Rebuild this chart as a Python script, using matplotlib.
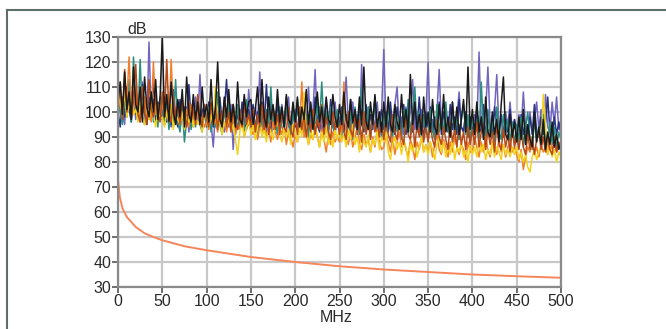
import numpy as np
import matplotlib.pyplot as plt
from matplotlib.lines import Line2D

plt.rcParams['font.family'] = ['Liberation Sans', 'DejaVu Sans']

# frequency axis of the measured traces, every 2.5 MHz (one row = 50 MHz)
freq = np.arange(0, 501, 2.5)

black = [104, 112, 99, 116, 101, 108, 97, 118, 103, 100, 110, 96, 114, 102, 98, 108, 100, 113, 97, 106,
         130, 98, 107, 96, 112, 100, 95, 105, 98, 109, 94, 114, 99, 96, 107, 97, 104, 95, 110, 98,
         103, 96, 113, 95, 101, 120, 97, 94, 106, 98, 109, 96, 103, 94, 112, 97, 95, 107, 98, 104,
         105, 95, 101, 110, 96, 113, 98, 94, 106, 97, 103, 95, 109, 96, 102, 94, 107, 97, 95, 104,
         96, 106, 94, 102, 97, 109, 95, 104, 93, 100, 108, 96, 102, 94, 106, 97, 95, 107, 98, 94,
         103, 95, 108, 97, 94, 105, 96, 101, 93, 106, 95, 118, 96, 93, 104, 95, 107, 94, 100, 92,
         104, 94, 106, 95, 92, 103, 96, 93, 107, 94, 101, 92, 115, 95, 104, 93, 99, 91, 106, 94,
         100, 92, 105, 94, 91, 103, 93, 107, 92, 98, 90, 104, 93, 102, 91, 97, 105, 92, 118, 93,
         101, 91, 104, 92, 98, 89, 106, 92, 90, 100, 91, 97, 88, 103, 114, 91, 89, 99, 90, 96,
         88, 98, 89, 101, 87, 95, 89, 86, 100, 88, 94, 87, 97, 85, 92, 87, 96, 86, 91, 85,
         88]
blue = [97, 106, 100, 95, 110, 101, 98, 107, 97, 104, 96, 112, 100, 95, 128, 98, 105, 96, 103, 97,
        106, 95, 101, 97, 94, 105, 96, 100, 93, 103, 95, 102, 92, 99, 94, 106, 96, 115, 95, 100,
        94, 102, 96, 86, 100, 93, 104, 95, 92, 99, 94, 103, 85, 98, 93, 101, 95, 106, 94, 109,
        96, 93, 102, 95, 116, 94, 101, 92, 98, 104, 93, 100, 91, 97, 103, 93, 99, 106, 92, 97,
        101, 93, 98, 92, 103, 95, 110, 93, 100, 117, 94, 102, 92, 98, 105, 93, 100, 95, 104, 94,
        98, 93, 101, 114, 95, 92, 104, 94, 99, 91, 119, 95, 93, 102, 92, 98, 94, 104, 93, 100,
        125, 94, 92, 100, 95, 103, 110, 93, 98, 91, 102, 94, 100, 113, 93, 97, 92, 101, 94, 99,
        120, 93, 97, 91, 100, 117, 94, 92, 101, 95, 93, 104, 91, 98, 108, 94, 92, 100, 93, 97,
        91, 99, 93, 124, 94, 92, 100, 118, 95, 91, 101, 115, 93, 98, 92, 100, 94, 104, 92, 97,
        90, 99, 93, 108, 94, 91, 100, 92, 97, 104, 93, 101, 91, 107, 94, 92, 104, 95, 106, 93,
        97]
navy = [100, 94, 106, 98, 110, 101, 96, 108, 99, 105, 97, 111, 100, 95, 106, 98, 114, 97, 104, 100,
        97, 106, 96, 103, 95, 109, 98, 94, 105, 97, 102, 95, 111, 97, 103, 96, 106, 95, 100, 103,
        95, 104, 97, 94, 102, 96, 106, 95, 100, 113, 96, 93, 103, 95, 99, 94, 104, 96, 93, 101,
        95, 103, 93, 100, 95, 104, 94, 111, 96, 92, 102, 95, 104, 93, 100, 94, 106, 95, 92, 101,
        94, 102, 95, 92, 104, 96, 93, 101, 94, 106, 95, 92, 102, 94, 99, 93, 105, 95, 91, 100,
        94, 102, 92, 99, 94, 105, 93, 100, 91, 102, 95, 92, 103, 94, 99, 93, 106, 92, 97, 101,
        93, 100, 92, 104, 94, 91, 102, 95, 93, 103, 91, 99, 94, 92, 104, 93, 106, 94, 91, 100,
        94, 102, 92, 98, 93, 104, 91, 100, 94, 92, 103, 93, 98, 91, 105, 94, 92, 100, 90, 98,
        93, 91, 101, 94, 92, 103, 90, 99, 93, 91, 102, 94, 92, 99, 90, 97, 92, 101, 91, 97,
        92, 90, 99, 91, 96, 89, 98, 91, 103, 92, 90, 98, 91, 96, 106, 92, 90, 98, 91, 96,
        91]
teal = [110, 100, 95, 106, 98, 113, 96, 122, 101, 97, 121, 98, 95, 104, 97, 108, 96, 102, 94, 106,
        99, 95, 104, 93, 100, 94, 113, 96, 92, 102, 88, 97, 104, 93, 100, 94, 105, 95, 92, 101,
        94, 102, 92, 99, 94, 108, 95, 91, 101, 94, 104, 93, 99, 91, 103, 94, 99, 92, 105, 95,
        93, 101, 94, 90, 103, 95, 92, 101, 94, 110, 93, 100, 91, 102, 94, 92, 104, 95, 91, 100,
        95, 105, 93, 100, 92, 99, 90, 103, 94, 92, 104, 95, 112, 93, 100, 91, 102, 94, 92, 101,
        93, 90, 103, 94, 91, 100, 89, 102, 93, 91, 110, 94, 92, 102, 90, 98, 105, 92, 99, 90,
        99, 92, 103, 93, 90, 102, 92, 98, 89, 101, 93, 105, 91, 98, 110, 92, 100, 90, 99, 92,
        90, 101, 93, 89, 103, 92, 99, 91, 104, 93, 90, 101, 92, 99, 89, 97, 103, 91, 99, 88,
        98, 91, 97, 89, 112, 92, 90, 101, 91, 97, 88, 102, 92, 89, 99, 91, 97, 88, 96, 87,
        95, 88, 98, 86, 94, 100, 89, 85, 97, 88, 94, 87, 99, 89, 86, 96, 87, 94, 85, 92,
        89]
orange = [100, 106, 98, 112, 104, 122, 101, 99, 110, 97, 103, 99, 106, 98, 101, 96, 120, 99, 103, 97,
          104, 98, 101, 96, 121, 100, 97, 103, 95, 99, 97, 101, 94, 103, 98, 95, 100, 96, 98, 94,
          96, 93, 99, 95, 97, 92, 101, 94, 96, 92, 97, 93, 99, 91, 95, 93, 98, 90, 94, 96,
          93, 91, 95, 89, 94, 92, 96, 90, 93, 88, 96, 92, 89, 94, 91, 95, 87, 92, 90, 86,
          91, 88, 94, 112, 90, 93, 87, 91, 89, 94, 90, 86, 93, 89, 84, 91, 87, 92, 88, 90,
          88, 93, 112, 90, 87, 92, 86, 90, 94, 88, 85, 91, 87, 89, 84, 90, 86, 93, 88, 85,
          86, 91, 88, 84, 90, 83, 88, 92, 86, 89, 85, 82, 89, 86, 81, 88, 85, 90, 84, 87,
          84, 88, 82, 87, 91, 85, 83, 89, 86, 82, 88, 84, 90, 86, 83, 87, 85, 81, 88, 84,
          84, 90, 86, 82, 88, 84, 90, 85, 82, 88, 86, 83, 89, 84, 87, 82, 86, 88, 84, 86,
          83, 80, 85, 77, 82, 86, 84, 88, 83, 86, 82, 87, 84, 86, 83, 89, 85, 87, 84, 86,
          85]
yellow = [112, 104, 100, 108, 98, 103, 106, 99, 101, 96, 104, 98, 95, 101, 97, 103, 99, 94, 100, 97,
          98, 94, 100, 96, 103, 93, 99, 97, 95, 100, 93, 98, 96, 101, 94, 99, 95, 97, 92, 100,
          97, 94, 99, 95, 110, 93, 97, 91, 96, 94, 98, 92, 95, 89, 83, 92, 96, 90, 94, 97,
          91, 95, 89, 94, 97, 90, 93, 88, 95, 92, 89, 94, 96, 91, 88, 94, 90, 93, 87, 95,
          92, 88, 94, 90, 108, 91, 87, 93, 89, 95, 90, 86, 92, 88, 94, 87, 91, 86, 93, 89,
          94, 88, 91, 86, 93, 89, 95, 87, 90, 84, 92, 88, 86, 91, 84, 89, 87, 92, 85, 90,
          88, 92, 84, 81, 87, 90, 85, 88, 83, 89, 86, 80, 87, 84, 89, 82, 86, 90, 84, 87,
          83, 88, 85, 81, 87, 90, 84, 88, 82, 86, 83, 89, 81, 86, 84, 88, 82, 85, 80, 87,
          83, 86, 82, 89, 84, 87, 81, 85, 83, 88, 82, 86, 84, 81, 87, 83, 85, 82, 86, 83,
          86, 81, 84, 80, 83, 78, 76, 82, 85, 81, 84, 86, 107, 95, 83, 86, 82, 85, 80, 84,
          82]
brown = [103, 112, 97, 117, 100, 108, 98, 106, 119, 99, 96, 110, 100, 95, 113, 101, 98, 107, 99, 96,
         108, 98, 121, 99, 96, 106, 97, 103, 95, 105, 98, 94, 104, 96, 102, 95, 107, 98, 94, 103,
         97, 94, 104, 96, 102, 93, 101, 95, 105, 94, 100, 92, 103, 95, 93, 101, 94, 104, 95, 99,
         94, 101, 92, 99, 94, 103, 93, 100, 91, 97, 102, 93, 99, 91, 101, 94, 92, 102, 93, 90,
         98, 91, 102, 93, 99, 90, 98, 92, 101, 91, 97, 93, 103, 91, 98, 92, 89, 100, 93, 97,
         91, 98, 92, 89, 100, 93, 90, 99, 92, 97, 88, 100, 91, 96, 89, 99, 92, 97, 90, 96,
         89, 97, 91, 88, 99, 92, 89, 96, 90, 87, 98, 91, 89, 97, 86, 95, 90, 98, 88, 94,
         88, 95, 89, 86, 97, 90, 87, 94, 89, 85, 96, 88, 93, 86, 95, 87, 92, 85, 94, 87,
         93, 87, 96, 86, 92, 95, 85, 93, 87, 92, 84, 95, 87, 85, 93, 86, 91, 84, 93, 86,
         91, 85, 92, 86, 83, 91, 85, 90, 83, 89, 92, 85, 90, 84, 91, 85, 83, 90, 84, 88,
         86]

# smooth limit curve at the bottom
limit_f = [0, 2, 5, 10, 15, 20, 30, 40, 50, 75, 100, 150, 200, 250, 300, 350, 400, 450, 500]
limit_db = [73, 66, 61.5, 58, 56, 54, 51.5, 50, 48.7, 46.3, 44.7, 42, 40, 38.3, 37, 36, 35, 34.3, 33.7]

fig = plt.figure(figsize=(6.66, 3.29), dpi=100)
ax = fig.add_axes([118/666, 1-287/329, 443/666, 250/329])

# traces, back to front
for vals, c in [(blue, '#7066c0'), (navy, '#2a3280'), (teal, '#2b8d7e'),
                (orange, '#f07f2c'), (yellow, '#f2d21a'), (brown, '#b84a18'),
                (black, '#1a1a1a')]:
    ax.plot(freq, vals, color=c, lw=1.1)

ax.plot(limit_f, limit_db, color='#f5855a', lw=1.4)

ax.set_xlim(0, 500)
ax.set_ylim(30, 130)
ax.set_xticks(range(0, 501, 50))
ax.set_yticks(range(30, 131, 10))
ax.grid(True, color='#c8c8c8', lw=1.6)
ax.set_axisbelow(True)
for s in ax.spines.values():
    s.set_color('#8a8a8a')
    s.set_linewidth(1.6)
ax.tick_params(direction='out', length=4, width=1.2, color='#555555',
               labelsize=11.5, labelcolor='#2a2a2a', pad=1)

fig.text(127/666, 1-29/329, 'dB', fontsize=11.5, color='#2a2a2a', ha='left', va='center')
fig.text(336/666, 1-318/329, 'MHz', fontsize=11.5, color='#2a2a2a', ha='center', va='center')

# outer frame (top and left edges only)
fig.add_artist(Line2D([7/666, 1], [1-10/329, 1-10/329], color='#5e6e6a', lw=1.5))
fig.add_artist(Line2D([7/666, 7/666], [0, 1-10/329], color='#5e6e6a', lw=1.5))

plt.savefig('out.png', dpi=100)
